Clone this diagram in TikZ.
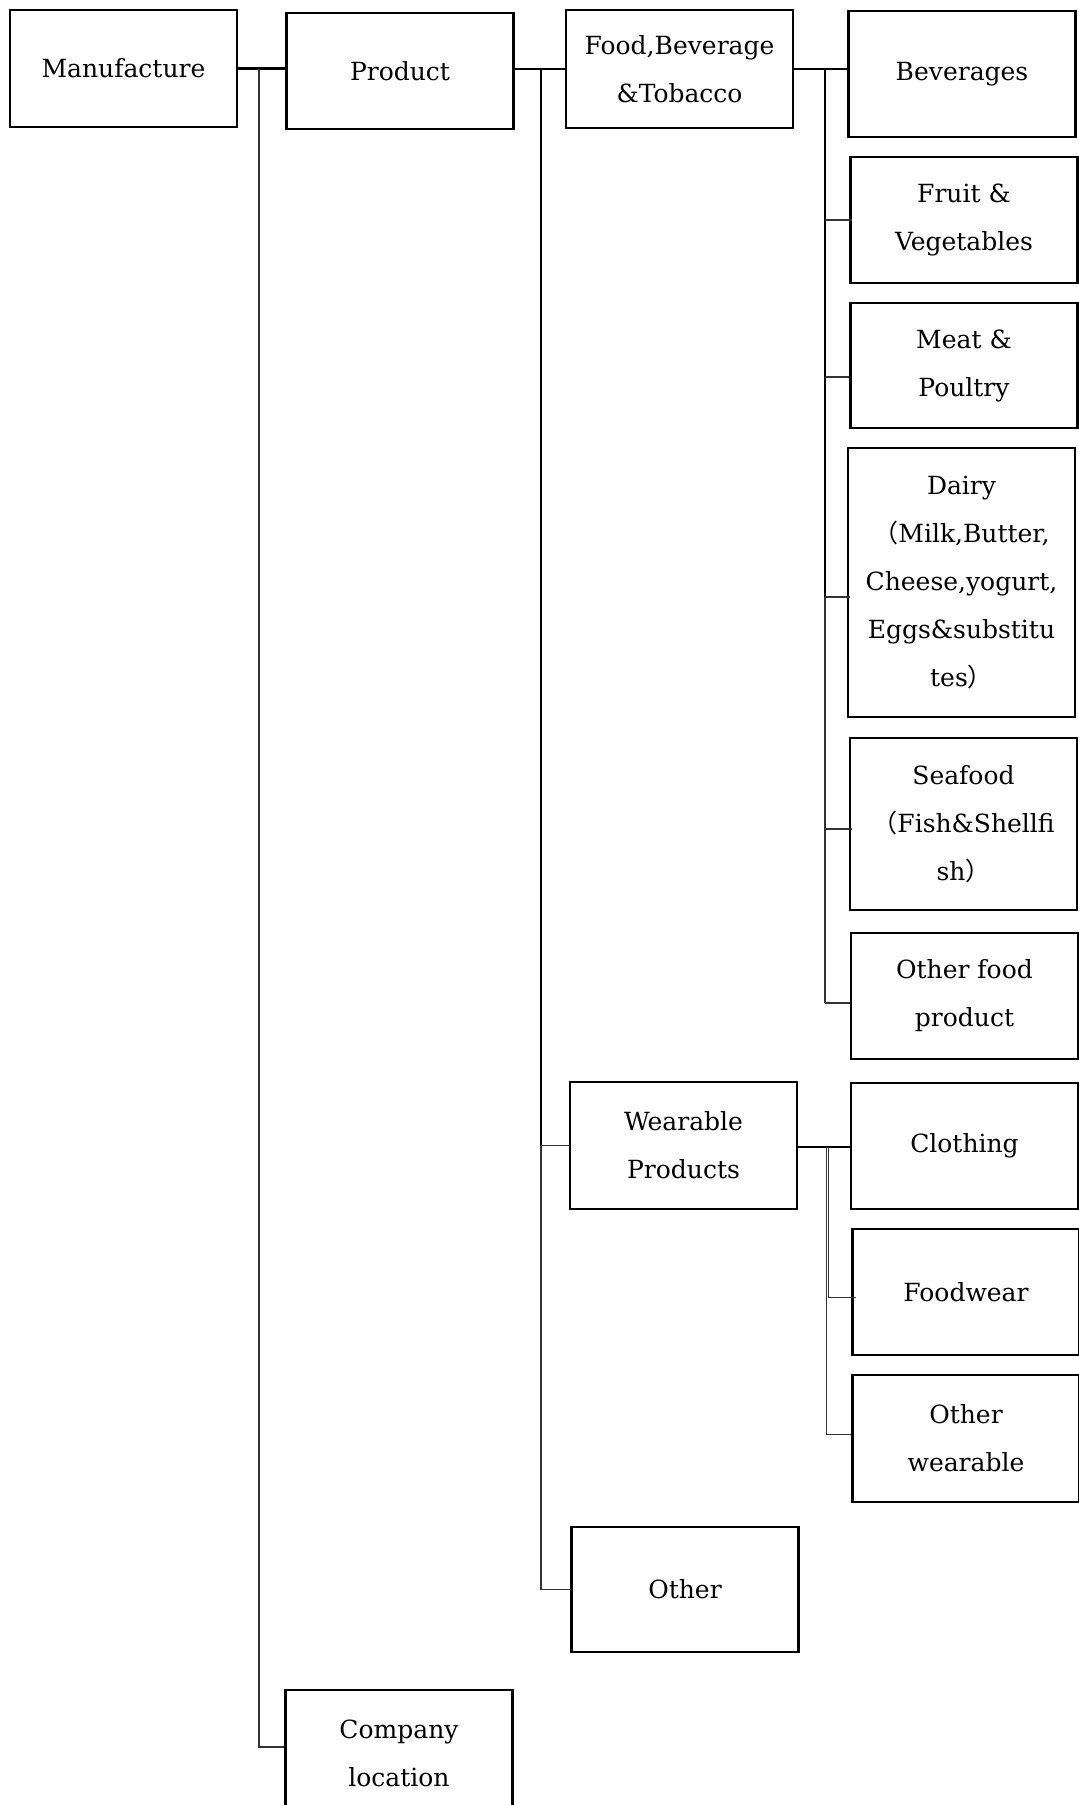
\documentclass[tikz,border=0pt]{standalone}
\usepackage{fontspec}
\setmainfont{DejaVu Serif}
\newfontfamily\cjk{Noto Sans CJK JP}
\begin{document}
\begin{tikzpicture}[x=1pt,y=-1pt,
  box/.style={draw, line width=2.6pt, rectangle, inner sep=0pt, align=center,
    minimum width=227pt, font=\fontsize{25}{48}\selectfont},
  heavy/.style={line width=2.6pt},
  light/.style={line width=1.3pt, draw=black!80},
  hair/.style={line width=1pt, draw=black!80}]
\fill[white] (0,0) rectangle (1079,1805);
\useasboundingbox (0,0) rectangle (1079,1805);
\clip (0,0) rectangle (1079,1805);

% level 1 and 2
\node[box, minimum height=117pt] (man)  at (123.5,68.5) {Manufacture};
\node[box, minimum height=116pt] (prod) at (400,71)     {Product};
\node[box, minimum height=126pt] (comp) at (399,1753)   {Company\\location};

% level 3
\node[box, minimum height=118pt] (food)  at (679.5,69)    {Food,Beverage\\\&Tobacco};
\node[box, minimum height=127pt] (wear)  at (683.5,1145.5) {Wearable\\Products};
\node[box, minimum height=125pt] (other) at (685,1589.5)  {Other};

% level 4: food
\node[box, minimum height=126pt] (bev)   at (962,74)     {Beverages};
\node[box, minimum height=126pt] (fruit) at (964,220)    {Fruit \&\\Vegetables};
\node[box, minimum height=125pt] (meat)  at (964,365.5)  {Meat \&\\Poultry};
\node[box, minimum height=269pt] (dairy) at (961.5,582.5)
  {Dairy\\{\cjk （}Milk,Butter,\\Cheese,yogurt,\\Eggs\&substitu\\tes{\cjk ）}};
\node[box, minimum height=172pt] (sea)   at (963.5,824)
  {Seafood\\{\cjk （}Fish\&Shellfi\\sh{\cjk ）}};
\node[box, minimum height=126pt] (ofood) at (964.5,996)  {Other food\\product};

% level 4: wearable
\node[box, minimum height=126pt] (cloth) at (964.5,1146) {Clothing};
\node[box, minimum height=126pt] (foodw) at (966,1292)   {Foodwear};
\node[box, minimum height=127pt] (owear) at (966,1438.5) {Other\\wearable};

% junction points
\coordinate (j1) at (259,69);
\coordinate (j2) at (541,69);
\coordinate (j3) at (825,68);
\coordinate (j4a) at (826.6,1147);
\coordinate (j4b) at (828.8,1147);
\coordinate (meatin)  at ([yshift=-11.5pt]meat.west);
\coordinate (dairyin) at ([yshift=-14.5pt]dairy.west);
\coordinate (seain)   at ([yshift=-5pt]sea.west);
\coordinate (ofoodin) at ([yshift=-7pt]ofood.west);
\coordinate (foodwin) at ([yshift=-5pt]foodw.west);
\coordinate (owearin) at ([yshift=4.5pt]owear.west);
\coordinate (compin)  at ([yshift=6pt]comp.west);

% Manufacture branch
\draw[heavy] (man.east) -- (man.east -| prod.west);
\draw[light] (j1) |- (compin);

% Product branch
\draw[heavy] ([yshift=2pt]prod.east) -- ([yshift=2pt]prod.east -| food.west);
\draw[light] (j2 |- wear.west) |- (other.west);
\draw[heavy] (j2) -- (j2 |- wear.west);
\draw[light] (j2 |- wear.west) -- (wear.west);

% Food branch
\draw[heavy] (food.east) -- (food.east -| bev.west);
\draw[light] (j3) -- (j3 |- ofoodin);
\draw[heavy] (j3) -- (j3 |- dairyin);
\draw[light] (j3 |- fruit.west) -- ([xshift=3pt]fruit.west);
\draw[light] (j3 |- meatin) -- (meatin);
\draw[light] (j3 |- dairyin) -- ([xshift=3pt]dairyin);
\draw[light] (j3 |- seain) -- ([xshift=3pt]seain);
\draw[light] (j3 |- ofoodin) -- (ofoodin);

% Wearable branch
\draw[heavy] ([yshift=-1.5pt]wear.east) -- ([yshift=-1.5pt]wear.east -| cloth.west);
\draw[hair] (j4b) |- ([xshift=5pt]foodwin);
\draw[hair] (j4a) |- (owearin);
\end{tikzpicture}
\end{document}
